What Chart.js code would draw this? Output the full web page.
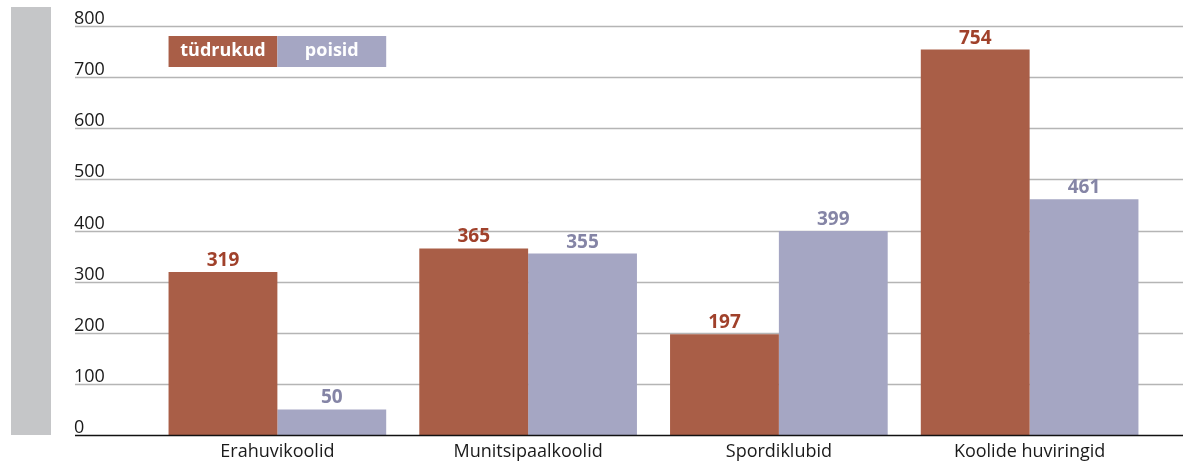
<!DOCTYPE html>
<html>
<head>
<meta charset="utf-8">
<script src="https://cdn.jsdelivr.net/npm/chart.js@4"></script>
<style>
  html, body { margin: 0; padding: 0; background: #fff; }
  #wrap { width: 1189px; height: 464px; position: relative; }
</style>
</head>
<body>
<div id="wrap"><canvas id="c" width="1189" height="464"></canvas></div>
<script>
// ── andmed ──────────────────────────────────────────────
const categories = ['Erahuvikoolid', 'Munitsipaalkoolid', 'Spordiklubid', 'Koolide huviringid'];
const girls      = [319, 365, 197, 754];
const boys       = [50, 355, 399, 461];
const yTicks     = [0, 100, 200, 300, 400, 500, 600, 700, 800];

const FONT = "'Open Sans', 'Noto Sans', sans-serif";
const RED = '#a95e47', RED_TXT = '#a0412b';
const LILAC = '#a5a6c3', LILAC_TXT = '#8585a6';

// Halli riba vasakul, ruudustik, sildid, legend
const decor = {
  id: 'decor',
  beforeDatasetsDraw(chart) {
    const { ctx } = chart;
    const y = chart.scales.y;
    ctx.save();
    // hall riba
    ctx.fillStyle = '#c5c6c8';
    ctx.fillRect(11, 7, 40, 428);
    // ruudustik + y-sildid
    ctx.font = '18px ' + FONT;
    ctx.textAlign = 'left';
    ctx.textBaseline = 'alphabetic';
    yTicks.forEach(v => {
      const py = Math.round(y.getPixelForValue(v));
      if (v > 0) {
        ctx.strokeStyle = '#b5b5b5';
        ctx.lineWidth = 1.5;
        ctx.beginPath(); ctx.moveTo(75, py + 0.5); ctx.lineTo(1183, py + 0.5); ctx.stroke();
      }
      ctx.fillStyle = '#1a1a1a';
      ctx.fillText(String(v), 74, py - 2);
    });
    ctx.restore();
  },
  afterDatasetsDraw(chart) {
    const { ctx } = chart;
    const x = chart.scales.x, y = chart.scales.y;
    ctx.save();
    // nulljoon
    const py0 = Math.round(y.getPixelForValue(0));
    ctx.strokeStyle = '#111';
    ctx.lineWidth = 1.5;
    ctx.beginPath(); ctx.moveTo(75, py0 + 0.5); ctx.lineTo(1183, py0 + 0.5); ctx.stroke();
    // x-sildid
    ctx.font = '18px ' + FONT;
    ctx.fillStyle = '#1a1a1a';
    ctx.textAlign = 'center';
    ctx.textBaseline = 'middle';
    categories.forEach((c, i) => ctx.fillText(c, x.getPixelForValue(i), 452));
    // väärtused
    ctx.font = 'bold 19px ' + FONT;
    ctx.textBaseline = 'alphabetic';
    chart.data.datasets.forEach((ds, di) => {
      const meta = chart.getDatasetMeta(di);
      ctx.fillStyle = ds.labelColor;
      meta.data.forEach((bar, i) => ctx.fillText(String(ds.data[i]), bar.x, bar.y - 6));
    });
    // legend
    const lx = chart.getDatasetMeta(0).data[0];
    const w = lx.width;
    let left = lx.x - w / 2;
    ctx.font = 'bold 18px ' + FONT;
    ctx.textBaseline = 'middle';
    chart.data.datasets.forEach(ds => {
      ctx.fillStyle = ds.backgroundColor;
      ctx.fillRect(left, 36, w, 31);
      ctx.fillStyle = '#fff';
      ctx.fillText(ds.label, left + w / 2, 51);
      left += w;
    });
    ctx.restore();
  }
};

new Chart(document.getElementById('c').getContext('2d'), {
  type: 'bar',
  data: {
    labels: categories,
    datasets: [
      { label: 'tüdrukud', data: girls, backgroundColor: RED, labelColor: RED_TXT },
      { label: 'poisid',   data: boys,  backgroundColor: LILAC, labelColor: LILAC_TXT },
    ]
  },
  options: {
    responsive: false,
    animation: false,
    layout: { padding: { left: 152, right: 34, top: 26, bottom: 29 } },
    datasets: { bar: { categoryPercentage: 0.868, barPercentage: 1.0, borderWidth: 0 } },
    plugins: { legend: { display: false }, tooltip: { enabled: false } },
    scales: {
      x: { display: false },
      y: { display: false, min: 0, max: 800 }
    }
  },
  plugins: [decor]
});
</script>
</body>
</html>
